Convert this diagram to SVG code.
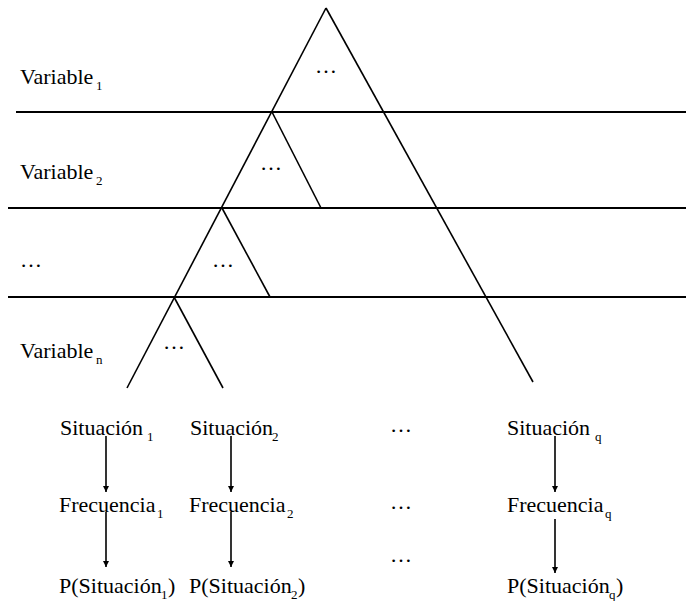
<svg xmlns="http://www.w3.org/2000/svg" width="686" height="601" viewBox="0 0 686 601">
<defs>
<marker id="ah" viewBox="0 0 10 10" refX="10" refY="5" markerWidth="6" markerHeight="8" markerUnits="userSpaceOnUse" orient="auto">
<path d="M0,0 L10,5 L0,10 Z" fill="#000"/>
</marker>
</defs>
<rect width="686" height="601" fill="#fff"/>
<g id="levels" stroke="#000" stroke-width="2">
<line x1="16" y1="112" x2="686" y2="112"/>
<line x1="8" y1="208" x2="686" y2="208"/>
<line x1="8" y1="297" x2="686" y2="297"/>
</g>
<g id="tree" stroke="#000" stroke-width="1.6">
<line x1="326" y1="8" x2="127" y2="388"/>
<line x1="326" y1="8" x2="533" y2="382"/>
<line x1="272" y1="112" x2="321" y2="208"/>
<line x1="222" y1="208" x2="270" y2="297"/>
<line x1="174" y1="297" x2="223" y2="388"/>
</g>
<g id="dots">
<text x="315" y="73" style="font-family:'Liberation Serif';font-size:22px">…</text>
<text x="260" y="170" style="font-family:'Liberation Serif';font-size:22px">…</text>
<text x="212" y="267" style="font-family:'Liberation Serif';font-size:22px">…</text>
<text x="163" y="349" style="font-family:'Liberation Serif';font-size:22px">…</text>
<text x="20" y="267" style="font-family:'Liberation Serif';font-size:22px">…</text>
<text x="390" y="432" style="font-family:'Liberation Serif';font-size:22px">…</text>
<text x="390" y="509" style="font-family:'Liberation Serif';font-size:22px">…</text>
<text x="390" y="562" style="font-family:'Liberation Serif';font-size:22px">…</text>
</g>
<g id="variable1">
<text x="20" y="84" style="font-family:'Liberation Serif';font-size:22px">Variable</text>
<text x="96" y="90" style="font-family:'Liberation Serif';font-size:13px">1</text>
</g>
<g id="variable2">
<text x="20" y="179" style="font-family:'Liberation Serif';font-size:22px">Variable</text>
<text x="96" y="185" style="font-family:'Liberation Serif';font-size:13px">2</text>
</g>
<g id="variablen">
<text x="20" y="358" style="font-family:'Liberation Serif';font-size:22px">Variable</text>
<text x="96" y="364" style="font-family:'Liberation Serif';font-size:13px">n</text>
</g>
<g id="situacion1">
<text x="60" y="435" style="font-family:'Liberation Serif';font-size:22px">Situación</text>
<text x="147" y="441" style="font-family:'Liberation Serif';font-size:13px">1</text>
</g>
<g id="situacion2">
<text x="190" y="435" style="font-family:'Liberation Serif';font-size:22px">Situación</text>
<text x="272" y="441" style="font-family:'Liberation Serif';font-size:13px">2</text>
</g>
<g id="situacionq">
<text x="507" y="435" style="font-family:'Liberation Serif';font-size:22px">Situación</text>
<text x="595" y="441" style="font-family:'Liberation Serif';font-size:13px">q</text>
</g>
<g id="frecuencia1">
<text x="59" y="512" style="font-family:'Liberation Serif';font-size:22px">Frecuencia</text>
<text x="157" y="518" style="font-family:'Liberation Serif';font-size:13px">1</text>
</g>
<g id="frecuencia2">
<text x="189" y="512" style="font-family:'Liberation Serif';font-size:22px">Frecuencia</text>
<text x="287" y="518" style="font-family:'Liberation Serif';font-size:13px">2</text>
</g>
<g id="frecuenciaq">
<text x="507" y="512" style="font-family:'Liberation Serif';font-size:22px">Frecuencia</text>
<text x="605" y="518" style="font-family:'Liberation Serif';font-size:13px">q</text>
</g>
<g id="prob1">
<text x="59" y="593" style="font-family:'Liberation Serif';font-size:22px">P(Situación</text>
<text x="161" y="599" style="font-family:'Liberation Serif';font-size:13px">1</text>
<text x="168" y="593" style="font-family:'Liberation Serif';font-size:22px">)</text>
</g>
<g id="prob2">
<text x="189" y="593" style="font-family:'Liberation Serif';font-size:22px">P(Situación</text>
<text x="291" y="599" style="font-family:'Liberation Serif';font-size:13px">2</text>
<text x="298" y="593" style="font-family:'Liberation Serif';font-size:22px">)</text>
</g>
<g id="probq">
<text x="507" y="593" style="font-family:'Liberation Serif';font-size:22px">P(Situación</text>
<text x="609" y="599" style="font-family:'Liberation Serif';font-size:13px">q</text>
<text x="616" y="593" style="font-family:'Liberation Serif';font-size:22px">)</text>
</g>
<g id="connectors" stroke="#000" stroke-width="1.6" marker-end="url(#ah)">
<line x1="106" y1="436" x2="106" y2="492"/>
<line x1="231" y1="436" x2="231" y2="492"/>
<line x1="555" y1="436" x2="555" y2="492"/>
<line x1="106" y1="512" x2="106" y2="567"/>
<line x1="231" y1="512" x2="231" y2="567"/>
<line x1="555" y1="519" x2="555" y2="573"/>
</g>
</svg>
